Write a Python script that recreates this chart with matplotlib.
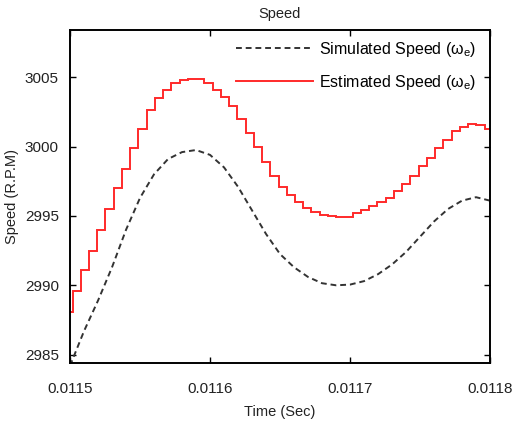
import numpy as np
import matplotlib
matplotlib.use("Agg")
import matplotlib.pyplot as plt

plt.rcParams['font.family'] = ['Liberation Sans', 'DejaVu Sans']
plt.rcParams['mathtext.fontset'] = 'custom'
plt.rcParams['mathtext.rm'] = 'Liberation Sans'

# simulated speed, sampled every 10 us from 0.01150 s
sim_t = [0.01150, 0.01151, 0.01152, 0.01153, 0.01154, 0.01155, 0.01156, 0.01157,
         0.01158, 0.01159, 0.01160, 0.01161, 0.01162, 0.01163, 0.01164, 0.01165,
         0.01166, 0.01167, 0.01168, 0.01169, 0.01170, 0.01171, 0.01172, 0.01173,
         0.01174, 0.01175, 0.01176, 0.01177, 0.01178, 0.01179, 0.01180]
sim_speed = [2984.2, 2986.7, 2988.9, 2991.3, 2994.0, 2996.3, 2998.0, 2999.1,
             2999.6, 2999.75, 2999.4, 2998.5, 2997.1, 2995.4, 2993.7, 2992.25,
             2991.3, 2990.6, 2990.15, 2990.0, 2990.05, 2990.3, 2990.8, 2991.5,
             2992.4, 2993.5, 2994.6, 2995.5, 2996.1, 2996.35, 2996.1]

# estimated speed, held constant between estimator updates
est_start = 0.0114959
est_dt = 5.886e-6
est_speed = [2988.1, 2989.6, 2991.1, 2992.5, 2994.0, 2995.5, 2997.0, 2998.4,
             2999.9, 3001.3, 3002.6, 3003.5, 3004.1, 3004.6, 3004.8, 3004.9,
             3004.85, 3004.6, 3004.1, 3003.6, 3002.9, 3002.0, 3001.0, 3000.0,
             2998.9, 2997.9, 2997.1, 2996.5, 2996.0, 2995.6, 2995.3, 2995.1,
             2995.0, 2994.95, 2994.95, 2995.2, 2995.4, 2995.7, 2996.0, 2996.3,
             2996.8, 2997.3, 2997.9, 2998.6, 2999.2, 2999.9, 3000.5, 3001.1,
             3001.4, 3001.6, 3001.55, 3001.3]
est_edges = est_start + est_dt * np.arange(len(est_speed) + 1)

x_ticks = [0.0115, 0.0116, 0.0117, 0.0118]
x_labels = ['0.0115', '0.0116', '0.0117', '0.0118']
y_ticks = [2985, 2990, 2995, 3000, 3005]

fig = plt.figure(figsize=(5.13, 4.21), dpi=100)
ax = fig.add_axes([0.1365, 0.1378, 0.8187, 0.7909])

ax.plot(sim_t, sim_speed, color='#333333', linestyle=(0, (3, 2)), linewidth=1.4,
        label='Simulated Speed (ω$_\\mathrm{e}$)')
ax.stairs(est_speed, est_edges, baseline=None, color='#ff2a2a', linewidth=1.4,
          label='Estimated Speed (ω$_\\mathrm{e}$)')

ax.set_xlim(0.0115, 0.0118)
ax.set_ylim(2984.4, 3008.4)
ax.set_xticks(x_ticks)
ax.set_xticklabels(x_labels)
ax.set_yticks(y_ticks)

ax.tick_params(direction='in', length=4, width=1, top=True, right=True,
               labelsize=11, labelcolor='#222222', pad=8)
ax.tick_params(axis='x', pad=14)
for s in ax.spines.values():
    s.set_linewidth(1.4)

ax.set_title('Speed', fontsize=10.5, pad=9, color='#222222')
ax.set_xlabel('Time (Sec)', fontsize=10.5, color='#222222', labelpad=6)
ax.set_ylabel('Speed (R.P.M)', fontsize=10.5, color='#222222', labelpad=4)

ax.legend(loc='upper left', bbox_to_anchor=(0.395, 0.97), frameon=False,
          fontsize=11.5, handlelength=4.8, handletextpad=0.4, labelspacing=0.85,
          borderpad=0, borderaxespad=0)

plt.savefig('out.png', dpi=100)
plt.close()
